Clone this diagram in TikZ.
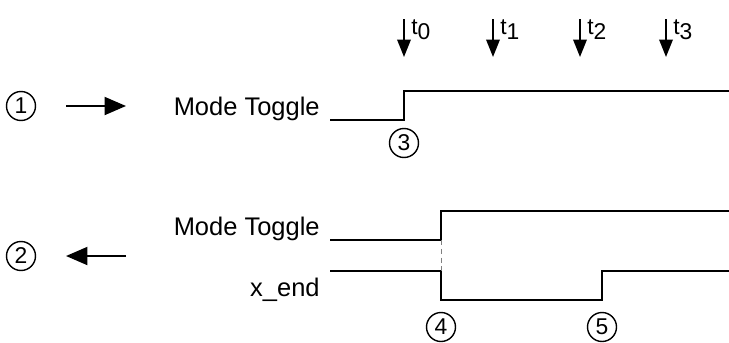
\documentclass[tikz,border=0pt]{standalone}
\usepackage{fontspec}
\setmainfont{Liberation Sans}
\usetikzlibrary{arrows.meta, positioning}

\begin{document}
\begin{tikzpicture}[
    x=0.02cm, y=-0.02cm,
    num/.style={circle, draw=black, line width=0.8pt, minimum size=0.58cm, inner sep=0pt, font=\fontsize{13}{15}\selectfont},
    lbl/.style={anchor=base east, inner sep=0pt, font=\fontsize{14.5}{17}\selectfont},
    tlabel/.style={anchor=north west, inner sep=0pt, font=\fontsize{13}{15}\selectfont},
    sig/.style={line width=1.6pt, line join=miter},
    tick/.style={-{Triangle[length=0.35cm, width=0.27cm]}, line width=1.15pt},
    bigarrow/.style={-{Triangle[length=0.43cm, width=0.36cm]}, line width=1.2pt}
]
\useasboundingbox (0,0) rectangle (729,342);

% Time marks at top
\foreach \x/\i in {404/0, 493/1, 580/2, 666/3} {
    \coordinate (tt\i) at (\x,19);
    \coordinate (tb\i) at (\x,57);
    \draw[tick] (tt\i) -- (tb\i);
    \node[tlabel] (tl\i) at (\x+7,19) {t\raisebox{-3pt}{\i}};
}

% Input: mode toggle
\node[num] (c1) at (21,106) {1};
\coordinate (in1) at (66,106);
\coordinate (in2) at (126,106);
\draw[bigarrow] (in1) -- (in2);

\node[lbl] (mt1) at (320,115) {Mode Toggle};
\draw[sig] (330,120) -- (404,120) -- (404,91) -- (729,91);
\node[num] (c3) at (404,143) {3};

% Output: mode toggle and x_end
\node[num] (c2) at (21,256) {2};
\coordinate (out1) at (126,256);
\coordinate (out2) at (66,256);
\draw[bigarrow] (out1) -- (out2);

\node[lbl] (mt2) at (320,235) {Mode Toggle};
\draw[sig] (330,240) -- (441,240) -- (441,211) -- (729,211);

\node[lbl] (xe) at (320,296) {x\_end};
\draw[sig] (330,271) -- (441,271) -- (441,300) -- (602,300) -- (602,271) -- (729,271);

\draw[gray, line width=0.5pt, dash pattern=on 3pt off 2pt] (441,240) -- (441,271);

\node[num] (c4) at (441,327) {4};
\node[num] (c5) at (602,327) {5};

\end{tikzpicture}
\end{document}
